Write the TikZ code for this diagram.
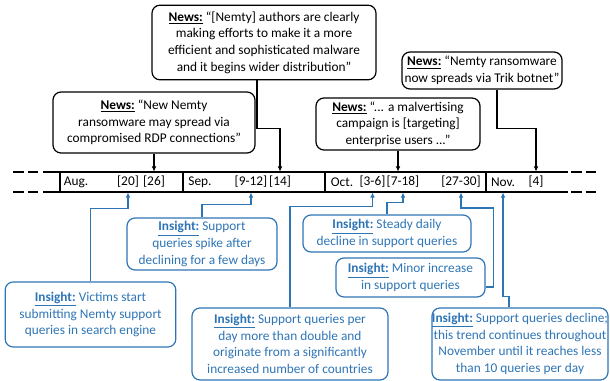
\documentclass[tikz,border=0pt]{standalone}
\usepackage{fontspec}
\setmainfont{Carlito}
\usetikzlibrary{arrows.meta,calc}
\definecolor{insblue}{RGB}{46,117,182}
\newcommand{\newslabel}{\underline{\textbf{News:}}}
\newcommand{\inslabel}{\underline{\textbf{Insight:}}}
\begin{document}
\begin{tikzpicture}[x=0.75pt,y=-0.75pt,
        font=\fontsize{10}{12.5}\selectfont,
        >={Latex[length=4pt,width=3.5pt]},
        newsbox/.style={draw,line width=0.9pt,rounded corners=6pt,align=center,inner sep=0pt},
        insbox/.style={newsbox,draw=insblue,text=insblue},
        newsline/.style={->,line width=0.8pt},
        insline/.style={->,line width=0.8pt,draw=insblue},
        datebox/.style={inner sep=0pt,minimum height=15pt}]
        \useasboundingbox (0,0) rectangle (610,381);

        % timeline
        \draw[line width=1.9pt] (43,172) -- (568,172);
        \draw[line width=1.9pt] (43,192) -- (568,192);
        \foreach \y in {172,192}
        {
            \draw[line width=1.9pt,dash pattern=on 8pt off 3pt] (13,\y) -- (41,\y);
            \draw[line width=1.9pt,dash pattern=on 8pt off 3pt] (571,\y) -- (599,\y);
        }
        \foreach \x in {60,183,325,486}
            \draw[line width=1.1pt] (\x,172) -- (\x,192);

        % months and dates
        \node[datebox] (mAug) at (76,182) {Aug.};
        \node[datebox] (mSep) at (200,182) {Sep.};
        \node[datebox] (mOct) at (342,182) {Oct.};
        \node[datebox] (mNov) at (503,182) {Nov.};
        \node[datebox] (d20) at (128,182) {[20]};
        \node[datebox] (d26) at (154,182) {[26]};
        \node[datebox] (d912) at (251,182) {[9-12]};
        \node[datebox] (d14) at (280,182) {[14]};
        \node[datebox] (d36) at (372.5,182) {[3-6]};
        \node[datebox] (d718) at (403,182) {[7-18]};
        \node[datebox] (d2730) at (461,182) {[27-30]};
        \node[datebox] (d4) at (536,182) {[4]};

        % news
        \node[newsbox,minimum width=168pt,minimum height=56pt] (nWider) at (264,42.5)
            {\newslabel{} “[Nemty] authors are clearly\\ making efforts to make it a more\\ efficient and sophisticated malware\\ and it begins wider distribution”};
        \node[newsbox,minimum width=151.5pt,minimum height=45.75pt] (nAug) at (154,122.5)
            {\newslabel{} “New Nemty\\ ransomware may spread via\\ compromised RDP connections”};
        \node[newsbox,minimum width=123pt,minimum height=39pt] (nOct) at (398,124)
            {\newslabel{} “... a malvertising\\ campaign is [targeting]\\ enterprise users ...”};
        \node[newsbox,minimum width=120pt,minimum height=27.75pt] (nTrik) at (482,70.5)
            {\newslabel{} “Nemty ransomware\\ now spreads via Trik botnet”};

        \draw[newsline] (nAug.south) -- (d26.north);
        \draw[newsline] ($(nWider.south)+(-7,0)$) -- ++(0,48) -| (d14.north);
        \draw[newsline] (nOct.south) -- (d718.north -| nOct.south);
        \draw[newsline] ($(nTrik.south)+(15,0)$) -- ++(0,39) -| (d4.north);

        % insights
        \node[insbox,minimum width=128pt,minimum height=48.75pt] (iVict) at (90.5,314.5)
            {\inslabel{} Victims start\\ submitting Nemty support\\ queries in search engine};
        \node[insbox,minimum width=112.5pt,minimum height=39pt] (iSpike) at (202,244)
            {\inslabel{} Support\\ queries spike after\\ declining for a few days};
        \node[insbox,minimum width=147pt,minimum height=54pt] (iDouble) at (290,344)
            {\inslabel{} Support queries per\\ day more than double and\\ originate from a significantly\\ increased number of countries};
        \node[insbox,minimum width=126pt,minimum height=27.75pt] (iSteady) at (387,233.5)
            {\inslabel{} Steady daily\\ decline in support queries};
        \node[insbox,minimum width=111.75pt,minimum height=29.25pt] (iMinor) at (410.5,277.5)
            {\inslabel{} Minor increase\\ in support queries};
        \node[insbox,minimum width=132pt,minimum height=54pt] (iDecl) at (520,344)
            {\inslabel{} Support queries decline;\\ this trend continues throughout\\ November until it reaches less\\ than 10 queries per day};

        \draw[insline] (iVict.north) -- ++(0,-73) -| (d20.south);
        \draw[insline] (iSpike.north) -- ++(0,-13) -| (d912.south);
        \draw[insline] (iDouble.north) -- ++(0,-101) -| (d36.south);
        \draw[insline] (iSteady.north) -- ++(0,-12) -| (d718.south);
        \draw[insline] ($(iMinor.east)+(0,9.5)$) -- ++(8,0) -- ++(0,-79) -| (d2730.south);
        \draw[insline] ($(iDecl.north)+(-11,0)$) -- ++(0,-11) -| (mNov.south);
    \end{tikzpicture}
\end{document}
